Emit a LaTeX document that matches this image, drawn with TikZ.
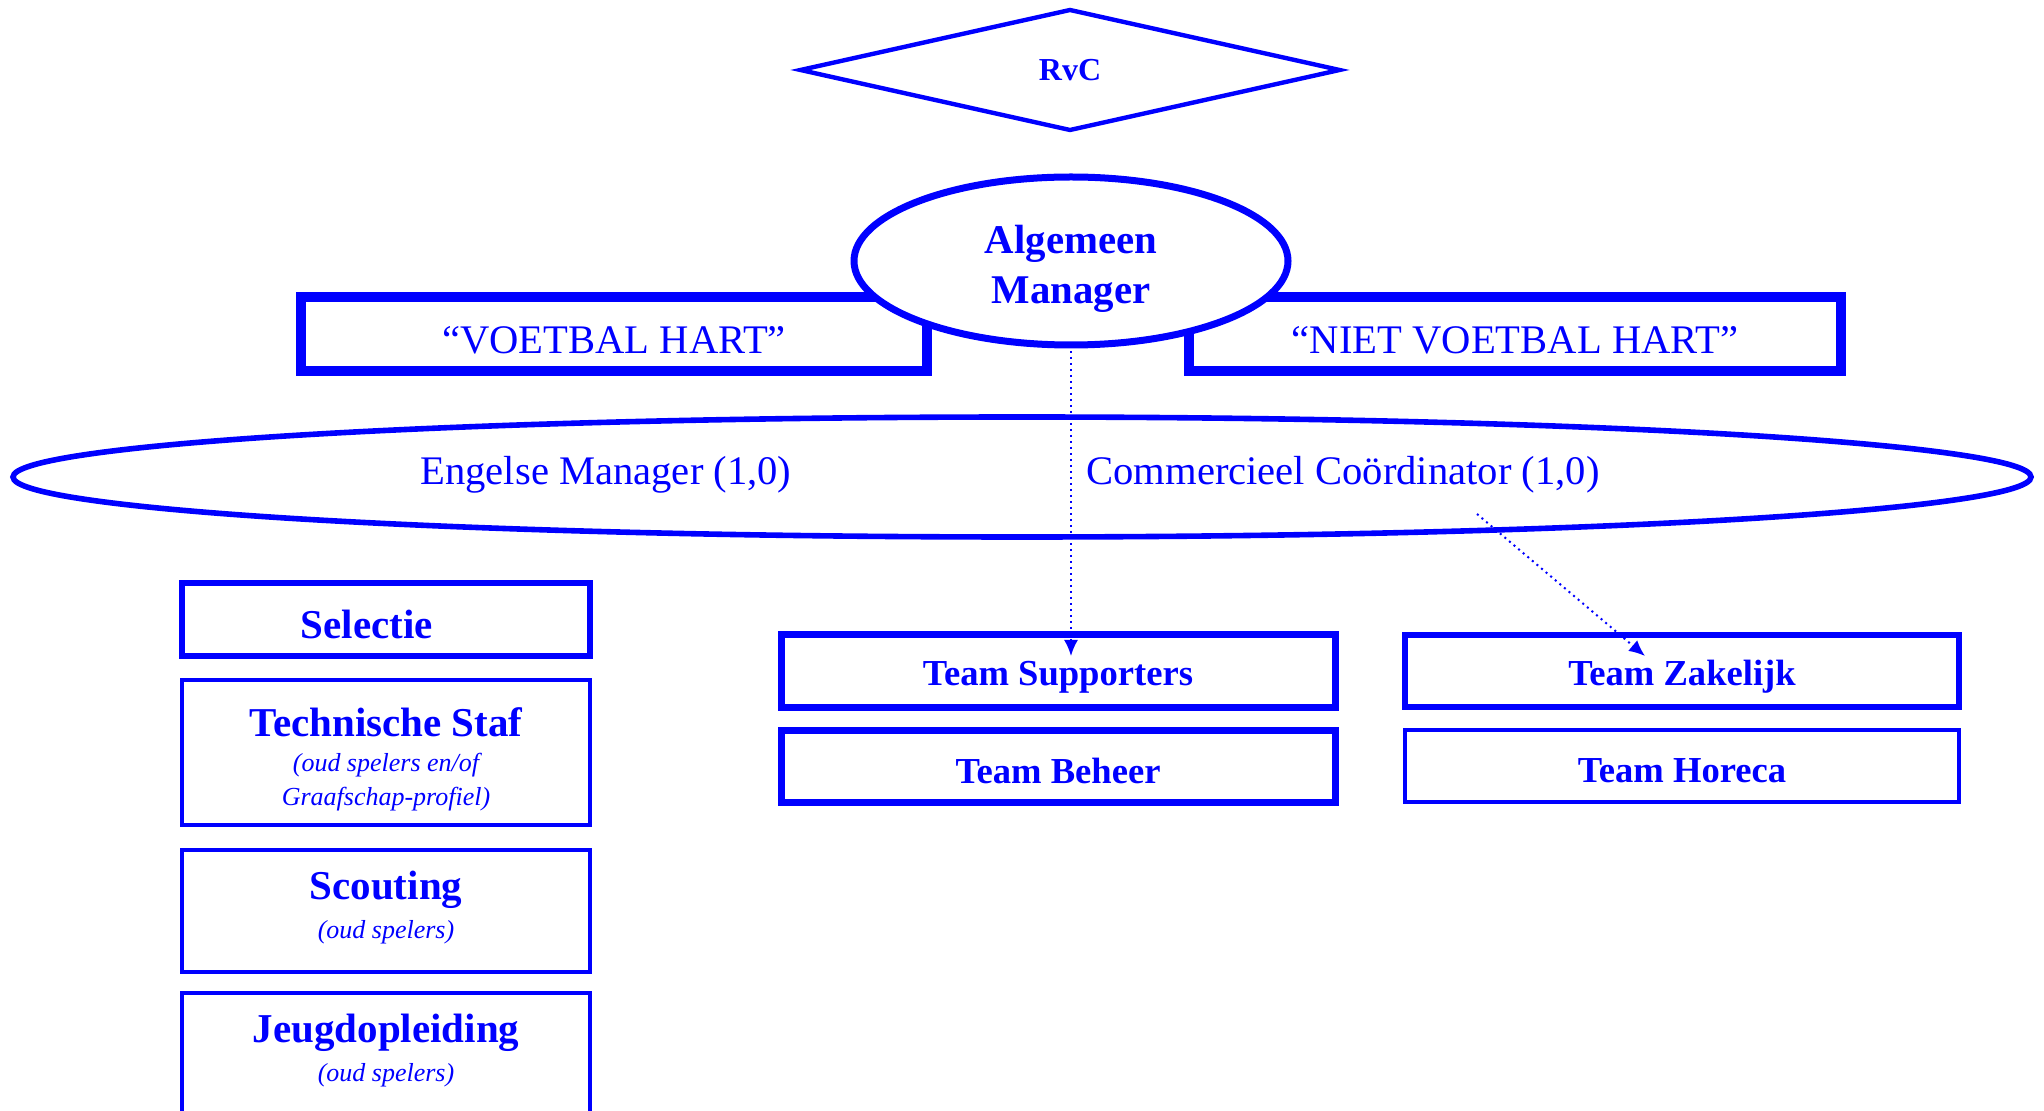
\documentclass[tikz,border=0pt]{standalone}
\usepackage{fontspec}
\setmainfont{Liberation Serif}
\usepackage{graphicx}
\usetikzlibrary{arrows.meta,shapes.geometric}
\definecolor{vb}{RGB}{0,0,255}
\begin{document}
\begin{tikzpicture}[x=0.5pt,y=-0.5pt,
  lbl/.style={text=vb, inner sep=0pt, outer sep=0pt, align=center},
  bx/.style={draw=vb, rectangle, inner sep=0pt, outer sep=0pt, line width=3.2pt},
  ttl/.style={font=\fontsize{20.5}{24}\selectfont\bfseries},
  team/.style={font=\fontsize{18.3}{22}\selectfont\bfseries},
  sub/.style={font=\fontsize{13}{17}\selectfont\itshape},
  cnd/.style={font=\fontsize{20.3}{23}\selectfont},
  dotarrow/.style={draw=vb, line width=1pt, dotted, -{Latex[length=8pt,width=7pt]}}
]
\useasboundingbox (0,0) rectangle (2044,1111);

% RvC
\node[draw=vb, diamond, line width=2.2pt, minimum width=269.5pt, minimum height=60pt, inner sep=0pt, outer sep=0pt] (rvcshape) at (1070,70) {};
\node[lbl, font=\fontsize{16}{19}\selectfont\bfseries] (rvc) at (1070,70) {RvC};

% heart boxes
\node[bx, line width=5pt, minimum width=313pt, minimum height=37pt] (vh) at (614,334) {};
\node[lbl, cnd] (vhtext) at (614,340) {“VOETBAL HART”};
\node[bx, line width=5pt, minimum width=326pt, minimum height=37pt] (nvh) at (1515,334) {};
\node[lbl, cnd] (nvhtext) at (1515,340) {“NIET VOETBAL HART”};

% Algemeen Manager
\node[draw=vb, fill=white, ellipse, line width=3.5pt, minimum width=217pt, minimum height=84pt, inner sep=0pt, outer sep=0pt] (am) at (1071,261) {};
\node[lbl, font=\fontsize{20.4}{25}\selectfont\bfseries] (amtext) at (1071,269) {Algemeen\\Manager};

% big ellipse
\node[draw=vb, ellipse, line width=2.8pt, minimum width=1009pt, minimum height=60pt, inner sep=0pt, outer sep=0pt] (big) at (1022,477) {};
\node[lbl, cnd] (em) at (606,475) {Engelse Manager (1,0)};
\node[lbl, cnd] (cc) at (1343,475) {Commercieel Coördinator (1,0)};

% left column
\node[bx, line width=3.3pt, minimum width=204pt, minimum height=36.5pt] (sel) at (386,619.5) {};
\node[lbl, ttl] (seltext) at (367,624) {Selectie};
\node[bx, line width=2.4pt, minimum width=204pt, minimum height=72.5pt] (ts2) at (386,752.5) {};
\node[lbl, ttl] (tstext) at (386,722) {Technische Staf};
\node[lbl, sub] (tssub) at (386,782) {(oud spelers en/of\\Graafschap-profiel)};
\node[bx, line width=2.4pt, minimum width=204pt, minimum height=61pt] (sc) at (386,911) {};
\node[lbl, ttl] (sctext) at (386,890) {Scouting};
\node[lbl, sub] (scsub) at (386,932) {(oud spelers)};
\node[bx, line width=2.4pt, minimum width=204pt, minimum height=80pt] (jo) at (386,1073) {};
\node[lbl, ttl] (jotext) at (386,1033) {Jeugdopleiding};
\node[lbl, sub] (josub) at (386,1075) {(oud spelers)};

% teams
\node[bx, line width=3.5pt, minimum width=277pt, minimum height=36pt] (sup) at (1058,671) {};
\node[lbl, team] (suptext) at (1058,677) {Team Supporters};
\node[bx, line width=3.5pt, minimum width=277pt, minimum height=36pt] (beh) at (1058,766) {};
\node[lbl, team] (behtext) at (1058,771) {Team Beheer};
\node[bx, line width=3.3pt, minimum width=277pt, minimum height=36pt] (zak) at (1682,671) {};
\node[lbl, team] (zaktext) at (1682,677) {Team Zakelijk};
\node[bx, line width=2.3pt, minimum width=277pt, minimum height=36pt] (hor) at (1682,766) {};
\node[lbl, team] (hortext) at (1682,771) {Team Horeca};

% connectors
\draw[dotarrow, shorten >=-10.5pt] (am.south) -- (am.south |- sup.north);
\coordinate (cstart) at (1477,514);
\coordinate (zakend) at (1645,656);
\draw[dotarrow] (cstart) -- (zakend);
\end{tikzpicture}
\end{document}
